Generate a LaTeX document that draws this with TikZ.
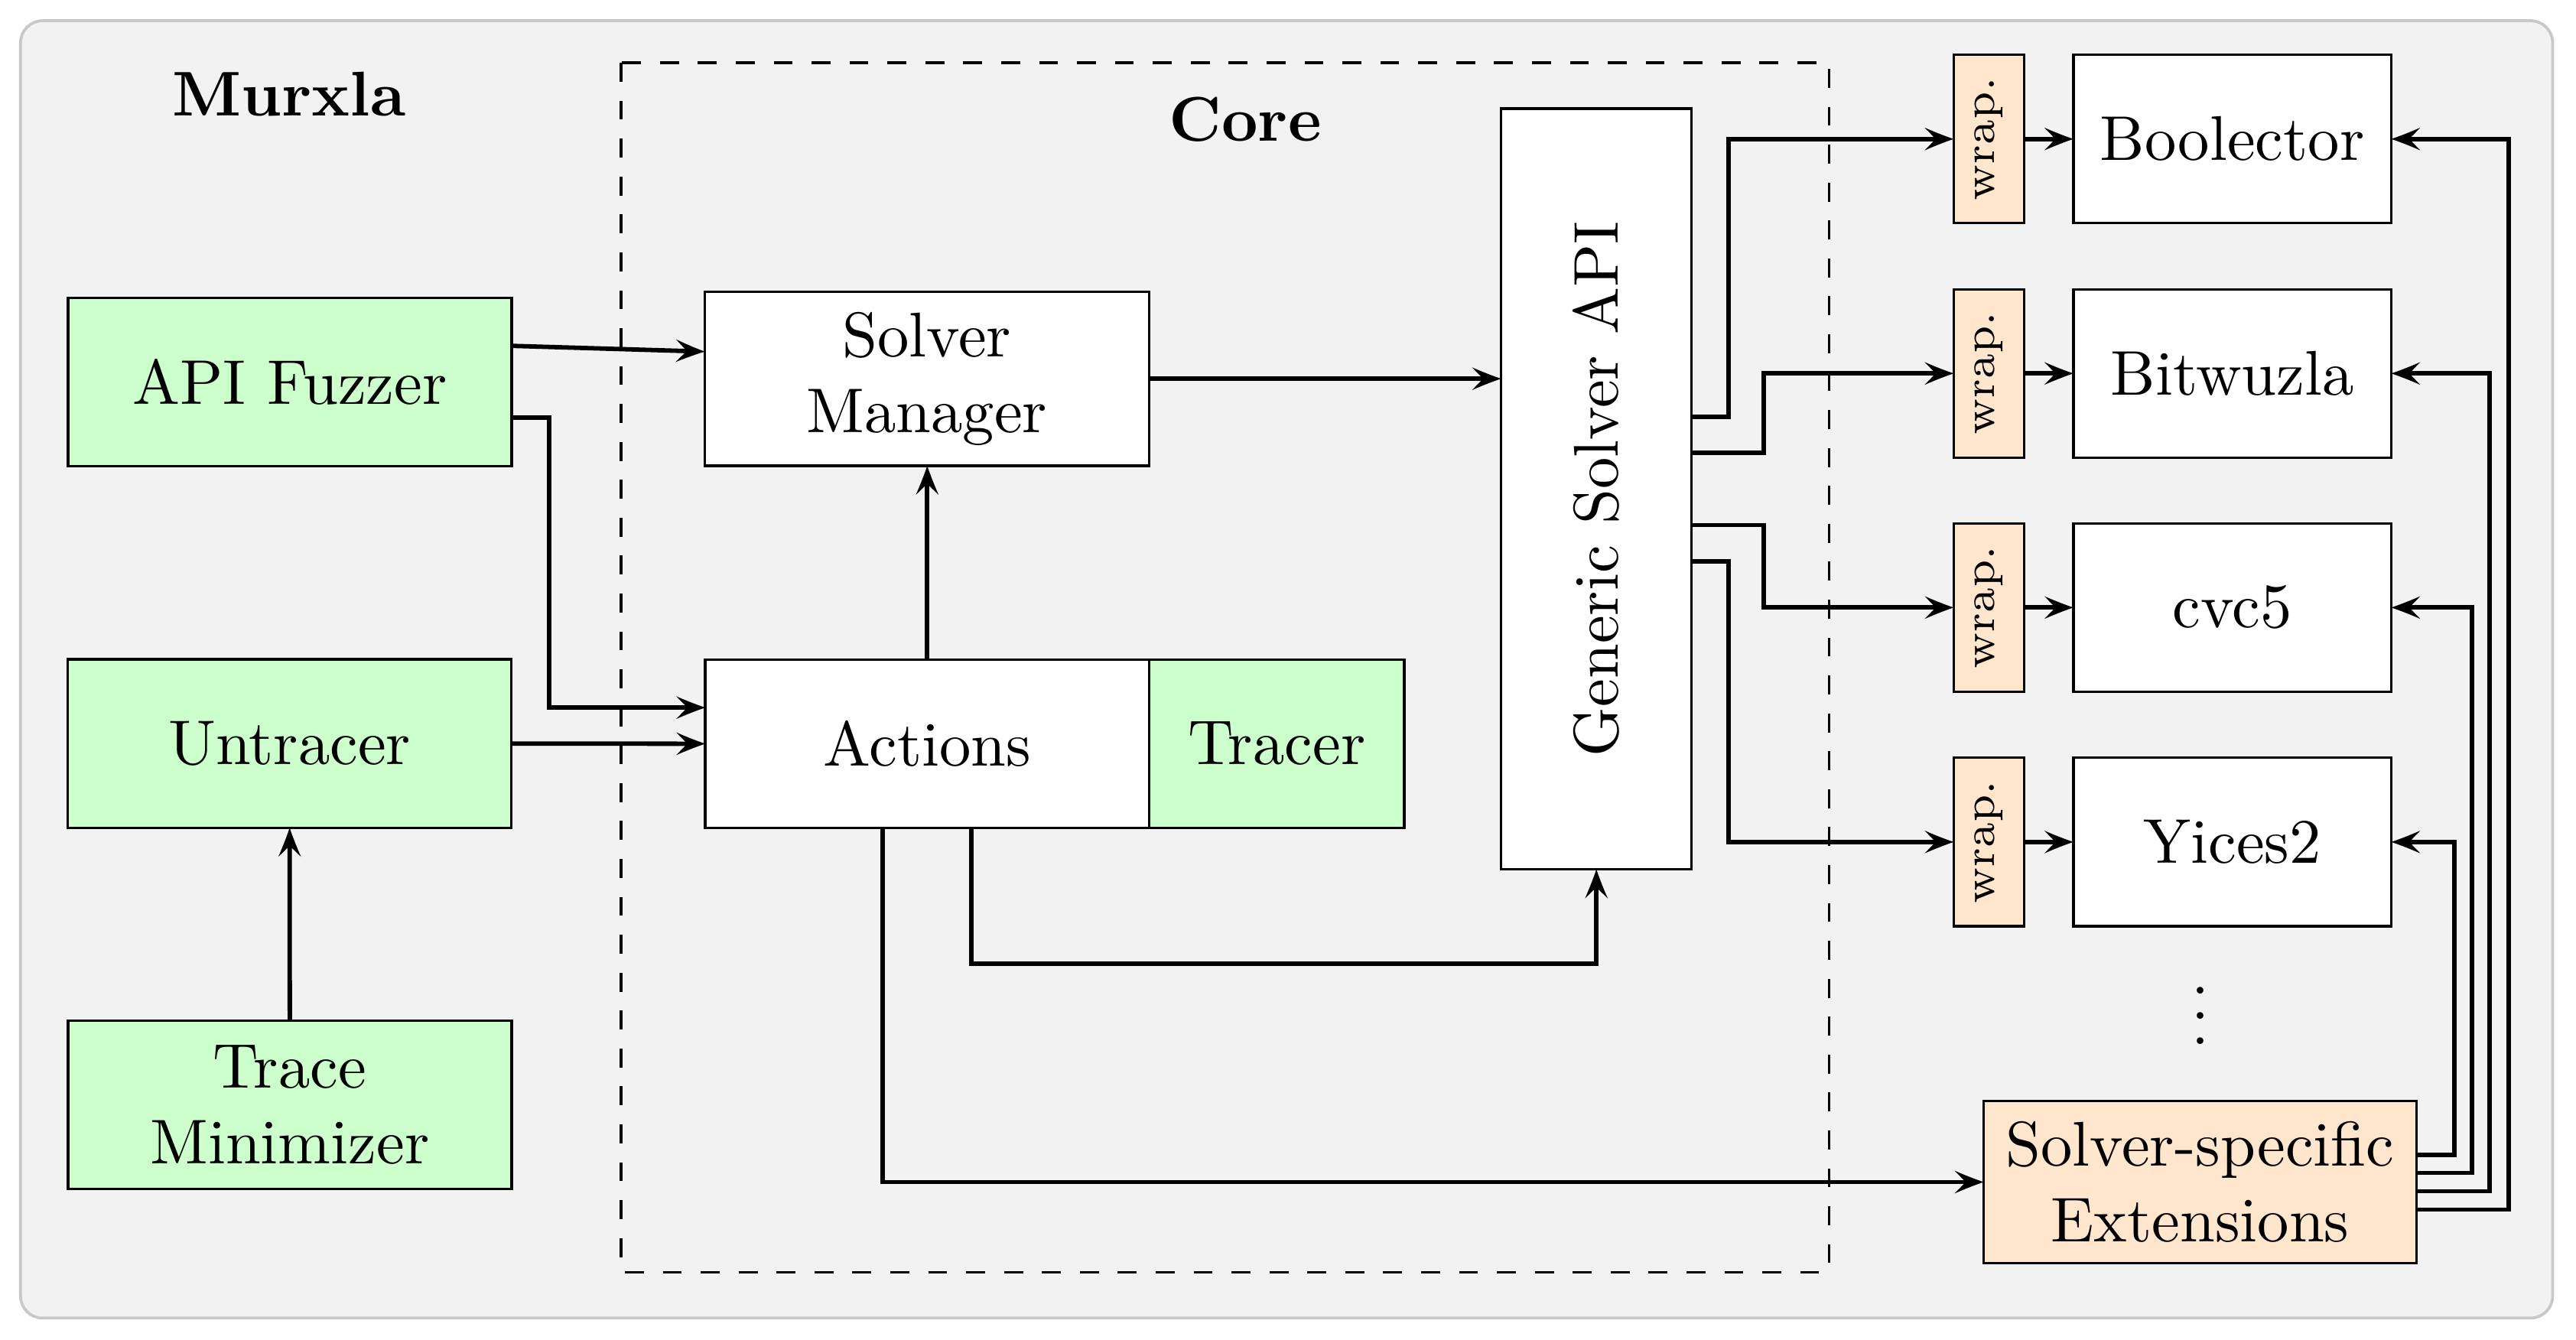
\documentclass[tikz,border=0pt]{standalone}
\usetikzlibrary{calc}
\definecolor{bgc}{HTML}{F2F2F2}
\definecolor{bdc}{HTML}{C8C8C8}
\definecolor{grn}{HTML}{CCFFCC}
\definecolor{org}{HTML}{FFE6CC}
\pgfarrowsdeclare{mystealth}{mystealth}
{\pgfarrowsleftextend{+-1.75pt}\pgfarrowsrightextend{+2.85pt}}
{\pgfsetdash{}{+0pt}%
 \pgfpathmoveto{\pgfqpoint{2.85pt}{0pt}}%
 \pgfpathcurveto{\pgfqpoint{2.14pt}{0.23pt}}{\pgfqpoint{0.29pt}{0.9pt}}{\pgfqpoint{-1.75pt}{1.8pt}}%
 \pgfpathlineto{\pgfqpoint{0pt}{0pt}}%
 \pgfpathlineto{\pgfqpoint{-1.75pt}{-1.8pt}}%
 \pgfpathcurveto{\pgfqpoint{0.29pt}{-0.9pt}}{\pgfqpoint{2.14pt}{-0.23pt}}{\pgfqpoint{2.85pt}{0pt}}%
 \pgfusepathqfill}
\tikzset{
  box/.style={draw, line width=0.4pt, inner sep=0pt, outer sep=0pt, align=center},
  gbox/.style={box, fill=grn, minimum width=70.2pt, minimum height=26.65pt},
  wrapbox/.style={box, fill=org, minimum width=11.18pt, minimum height=26.65pt, font=\scriptsize},
  solverbox/.style={box, fill=white, minimum width=50.3pt, minimum height=26.65pt},
  conn/.style={line width=0.7pt, -mystealth},
}
\begin{document}
\begin{tikzpicture}[x=0.26pt, y=-0.26pt]
\useasboundingbox (0,0) rectangle (1568,815.2);
% outer frame
\draw[fill=bgc, draw=bdc, line width=0.45pt, rounded corners=3.5pt] (12.5,12.6) rectangle (1553.8,802.3);
% core frame
\draw[dashed, line width=0.4pt] (378,38.2) rectangle (1113.4,774.3);
\node[font=\bfseries, anchor=base] (murxla) at (176,70.6) {Murxla};
\node[font=\bfseries, anchor=base] (core) at (758,85.7) {Core};
% left column
\node[gbox] (fuzz) at (176.5,232.5) {API Fuzzer};
\node[gbox] (untr) at (176.3,452.6) {Untracer};
\node[gbox] (tmin) at (176.4,672.5) {Trace\\Minimizer};
% core
\node[box, fill=white, minimum width=70.3pt, minimum height=27.56pt] (sm) at (564.2,230.5) {Solver\\Manager};
\node[box, fill=white, minimum width=70.25pt, minimum height=26.6pt] (act) at (564.4,452.7) {Actions};
\node[box, fill=grn, minimum width=40.4pt, minimum height=26.6pt] (trc) at (777.1,452.7) {Tracer};
\node[box, fill=white, minimum width=30.16pt, minimum height=120.4pt] (gen) at (971.7,297.6) {\rotatebox{90}{Generic Solver API}};
% wrappers and solvers
\node[wrapbox] (w1) at (1210.7,84.6) {\rotatebox{90}{wrap.}};
\node[wrapbox] (w2) at (1210.7,227.3) {\rotatebox{90}{wrap.}};
\node[wrapbox] (w3) at (1210.7,369.8) {\rotatebox{90}{wrap.}};
\node[wrapbox] (w4) at (1210.7,512.5) {\rotatebox{90}{wrap.}};
\node[solverbox] (s1) at (1358.8,84.6) {Boolector};
\node[solverbox] (s2) at (1358.8,227.3) {Bitwuzla};
\node[solverbox] (s3) at (1358.8,369.8) {cvc5};
\node[solverbox] (s4) at (1358.8,512.5) {Yices2};
\node (dots) at (1339.2,606.6) {$\vdots$};
\node[box, fill=org, minimum width=68.5pt, minimum height=25.74pt] (ext) at (1339.2,719.5) {Solver-specific\\Extensions};
% connectors
\draw[conn] ($(fuzz.east)+(0,-22)$) -- ($(sm.west)+(0,-16.5)$);
\draw[conn] ($(fuzz.east)+(0,21.5)$) -| ($(act.west)+(-95,-22)$) -- ($(act.west)+(0,-22)$);
\draw[conn] (untr.east) -- (act.west);
\draw[conn] (tmin.north) -- (untr.south);
\draw[conn] (act.north) -- (act.north |- sm.south);
\draw[conn] (sm.east) -- (sm.east -| gen.west);
\draw[conn] ($(act.south)+(27,0)$) -- ++(0,82.6) -| (gen.south);
\draw[conn] ($(act.south)+(-27,0)$) |- (ext.west);
\draw[conn] ($(gen.east)+(0,-44)$) -- ++(22.5,0) |- (w1.west);
\draw[conn] ($(gen.east)+(0,-22)$) -- ++(44,0) |- (w2.west);
\draw[conn] ($(gen.east)+(0,22)$) -- ++(44,0) |- (w3.west);
\draw[conn] ($(gen.east)+(0,44)$) -- ++(22.5,0) |- (w4.west);
\draw[conn] (w1.east) -- (s1.west);
\draw[conn] (w2.east) -- (s2.west);
\draw[conn] (w3.east) -- (s3.west);
\draw[conn] (w4.east) -- (s4.west);
\draw[conn] ($(ext.east)+(0,-16.7)$) -- ++(22.9,0) |- (s4.east);
\draw[conn] ($(ext.east)+(0,-5.6)$) -- ++(33.8,0) |- (s3.east);
\draw[conn] ($(ext.east)+(0,5.6)$) -- ++(44.6,0) |- (s2.east);
\draw[conn] ($(ext.east)+(0,16.8)$) -- ++(56,0) |- (s1.east);
\end{tikzpicture}
\end{document}
